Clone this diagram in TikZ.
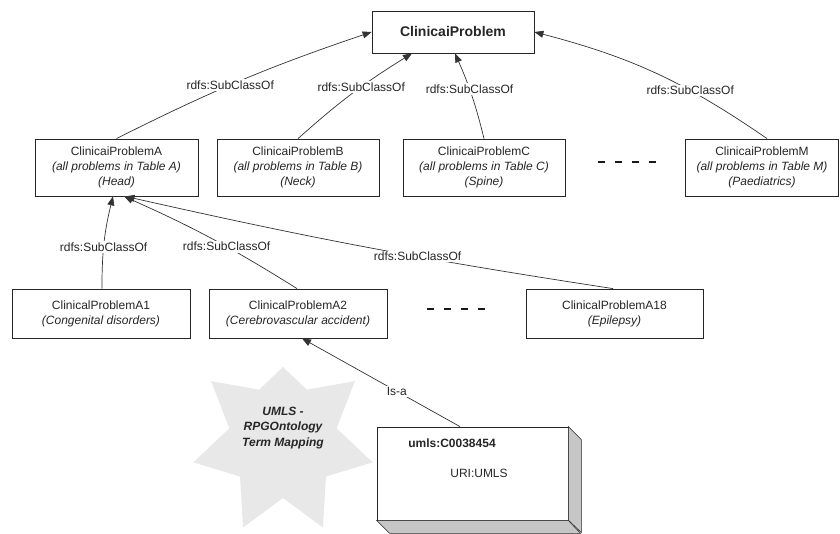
\documentclass[tikz,border=0pt]{standalone}
\usepackage{fontspec}
\setmainfont{Liberation Sans}
\usetikzlibrary{arrows.meta}
\begin{document}
\begin{tikzpicture}[x=1pt,y=1pt,
  box/.style={draw=black!85, line width=0.8pt, fill=white, align=center,
    font=\fontsize{12}{15}\selectfont, inner sep=0pt, text=black!85},
  conn/.style={draw=black!80, line width=0.7pt, -{Triangle[length=9pt,width=7pt]}},
  lbl/.style={fill=white, inner sep=1.5pt, font=\fontsize{12}{14}\selectfont, text=black!85},
  dotline/.style={line width=2pt, draw=black!90, dash pattern=on 7pt off 10pt},
  face/.style={fill=gray!45, draw=black!85, line width=0.6pt},
]
\useasboundingbox (0,0) rectangle (840,533);

% star
\begin{scope}[shift={(283,92)}]
\fill[gray!18] (90:74) -- (115.71:55 and 57) -- (141.43:92 and 96) -- (167.14:55 and 57)
  -- (192.86:92 and 96) -- (218.57:55 and 57) -- (244.29:92 and 96) -- (270:55 and 57)
  -- (295.71:92 and 96) -- (321.43:55 and 57) -- (347.14:92 and 96) -- (12.86:55 and 57)
  -- (38.57:92 and 96) -- (64.29:55 and 57) -- cycle;
\end{scope}
\node[font=\bfseries\itshape\fontsize{12}{15.5}\selectfont, align=center, text=black!85] (startext) at (283,105) {UMLS -\\RPGOntology\\Term Mapping};

% top
\node[box, font=\bfseries\fontsize{14}{16}\selectfont, minimum width=162pt, minimum height=42pt] (top) at (453,501) {ClinicaiProblem};

% level 2
\node[box, minimum width=163pt, minimum height=57pt] (A) at (116.5,365.5) {ClinicaiProblemA\\\textit{(all problems in Table A)}\\\textit{(Head)}};
\node[box, minimum width=162pt, minimum height=57pt] (B) at (298,365.5) {ClinicaiProblemB\\\textit{(all problems in Table B)}\\\textit{(Neck)}};
\node[box, minimum width=162pt, minimum height=57pt] (C) at (484,365.5) {ClinicaiProblemC\\\textit{(all problems in Table C)}\\\textit{(Spine)}};
\node[box, minimum width=153pt, minimum height=57pt] (M) at (762,365.5) {ClinicaiProblemM\\\textit{(all problems in Table M)}\\\textit{(Paediatrics)}};

% level 3
\node[box, minimum width=178pt, minimum height=49pt] (A1) at (101,219.5) {ClinicalProblemA1\\\textit{(Congenital disorders)}};
\node[box, minimum width=178pt, minimum height=49pt] (A2) at (298,219.5) {ClinicalProblemA2\\\textit{(Cerebrovascular accident)}};
\node[box, minimum width=177pt, minimum height=49pt] (A18) at (614.5,219.5) {ClinicalProblemA18\\\textit{(Epilepsy)}};

% dashes
\draw[dotline] (598,371) -- (656,371);
\draw[dotline] (427,224) -- (485,224);

% 3D box
\node[box, minimum width=191pt, minimum height=93pt] (uml) at (472.5,59.5) {};
\draw[face] (uml.north east) -- ++(13,-13) -- ++(0,-93) -- (uml.south east) -- cycle;
\draw[face] (uml.south west) -- ++(13,-13) -- ++(191,0) -- (uml.south east) -- cycle;
\node[font=\bfseries\fontsize{12}{14}\selectfont, text=black!85] (umlid) at (452,90) {umls:C0038454};
\node[font=\fontsize{12}{14}\selectfont, text=black!85] (umluri) at (479,60) {URI:UMLS};

% connectors
\draw[conn] (A.north) to[bend left=4] node[lbl,pos=0.45] {rdfs:SubClassOf} (top.west);
\draw[conn] (B.north) to[bend left=5] node[lbl,pos=0.58] {rdfs:SubClassOf} ([xshift=-41pt]top.south);
\draw[conn] (C.north) to[bend right=5] node[lbl,pos=0.58] {rdfs:SubClassOf} ([xshift=2pt]top.south);
\draw[conn] ([xshift=5pt]M.north) to[bend right=10] node[lbl,pos=0.34] {rdfs:SubClassOf} (top.east);

\draw[conn] ([xshift=1pt]A1.north) to[bend left=7] node[lbl,pos=0.44] {rdfs:SubClassOf} ([xshift=-3.5pt]A.south);
\draw[conn] ([xshift=-1pt]A2.north) to[bend right=4] node[lbl,pos=0.41] {rdfs:SubClassOf} ([xshift=7.5pt]A.south);
\draw[conn] ([xshift=-1.5pt]A18.north) to[bend left=2] node[lbl,pos=0.39] {rdfs:SubClassOf} ([xshift=9pt]A.south);

\draw[conn] ([xshift=-12.5pt]uml.north) -- node[lbl,pos=0.4] {Is-a} ([xshift=4pt]A2.south);
\end{tikzpicture}
\end{document}
